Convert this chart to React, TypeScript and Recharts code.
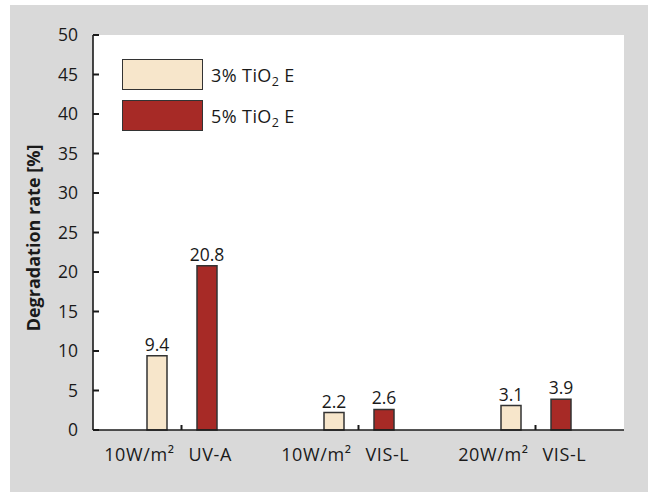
import { Bar, BarChart, CartesianGrid, LabelList, Legend, XAxis, YAxis } from 'recharts'

const intensities = ['10W/m²', '10W/m²', '20W/m²']
const lights = ['UV-A', 'VIS-L', 'VIS-L']
const seriesNames = ['3% TiO2 E', '5% TiO2 E']
const tio3 = [9.4, 2.2, 3.1]
const tio5 = [20.8, 2.6, 3.9]
const yTicks = [0, 5, 10, 15, 20, 25, 30, 35, 40, 45, 50]

const colors = ['#f7e6cb', '#a72a26']
const font = '"Open Sans", sans-serif'
const ink = '#1a1a1a'

const data = intensities.map((v, i) => ({
  name: `${v} ${lights[i]}`,
  s3: tio3[i],
  s5: tio5[i]
}))

function BottomTick({ x, y, index }: any) {
  return (
    <g>
      <line x1={x} x2={x} y1={y} y2={y - 5} stroke={ink} strokeWidth={2} />
      <text x={x - 7} y={y + 31} textAnchor="end" fontSize={18} fill={ink} fontFamily={font} letterSpacing={0.6}>
        {intensities[index]}
      </text>
      <text x={x + 7} y={y + 31} textAnchor="start" fontSize={18} fill={ink} fontFamily={font} letterSpacing={0.6}>
        {lights[index]}
      </text>
    </g>
  )
}

function TopTick({ x, y }: any) {
  return <line x1={x} x2={x} y1={y} y2={y + 6} stroke={ink} strokeWidth={2} />
}

function LeftTick({ x, y, payload }: any) {
  return (
    <g>
      <line x1={x} x2={x + 6} y1={y} y2={y} stroke={ink} strokeWidth={2} />
      <text x={x - 15} y={y + 6} textAnchor="end" fontSize={17.5} fill={ink} fontFamily={font}>
        {payload.value}
      </text>
    </g>
  )
}

function RightTick({ x, y }: any) {
  return <line x1={x - 6} x2={x} y1={y} y2={y} stroke={ink} strokeWidth={2} />
}

function YTitle() {
  return (
    <text
      x={23}
      y={233}
      transform="rotate(-90 23 233)"
      textAnchor="middle"
      dominantBaseline="central"
      fontSize={18}
      fontWeight={700}
      fill={ink}
      fontFamily={font}
    >
      Degradation rate [%]
    </text>
  )
}

function formula(name: string) {
  const [a, b] = name.split('TiO2')
  return (
    <>
      {a}TiO<sub style={{ fontSize: 12.5, verticalAlign: -4, lineHeight: 0 }}>2</sub>{b}
    </>
  )
}

function LegendBox({ payload }: any) {
  return (
    <div style={{ fontFamily: font }}>
      {(payload || []).map((entry: any, i: number) => (
        <div key={entry.value} style={{ display: 'flex', alignItems: 'center', marginBottom: i === 0 ? 10 : 0 }}>
          <div
            style={{
              width: 81,
              height: 31,
              boxSizing: 'border-box',
              background: entry.color,
              border: '1.5px solid #333'
            }}
          />
          <span style={{ marginLeft: 8, fontSize: 18, letterSpacing: 0.4, color: ink, lineHeight: '20px' }}>
            {formula(entry.value)}
          </span>
        </div>
      ))}
    </div>
  )
}

export default function App() {
  return (
    <div style={{ position: 'absolute', left: 0, top: 0, width: 648, height: 492, background: '#ffffff' }}>
      <div style={{ position: 'absolute', left: 10, top: 5, width: 638, height: 487, background: '#d9d9d9' }}>
        <BarChart
          width={638}
          height={487}
          data={data}
          margin={{ top: 30, right: 24, bottom: 22, left: 0 }}
          barGap={30}
          style={{ fontFamily: font }}
        >
          <CartesianGrid horizontal={false} vertical={false} fill="#ffffff" />
          <XAxis
            dataKey="name"
            height={40}
            interval={0}
            tickSize={0}
            tickMargin={0}
            tickLine={false}
            axisLine={{ stroke: ink, strokeWidth: 1.6 }}
            tick={<BottomTick />}
          />
          <XAxis
            xAxisId="top"
            orientation="top"
            dataKey="name"
            height={0}
            interval={0}
            tickSize={0}
            tickMargin={0}
            tickLine={false}
            axisLine={{ stroke: ink, strokeWidth: 1.6 }}
            tick={<TopTick />}
          />
          <YAxis
            width={83}
            domain={[0, 50]}
            ticks={yTicks}
            interval={0}
            tickSize={0}
            tickMargin={0}
            tickLine={false}
            axisLine={{ stroke: ink, strokeWidth: 1.6 }}
            tick={<LeftTick />}
            label={<YTitle />}
          />
          <YAxis
            yAxisId="right"
            orientation="right"
            width={0}
            domain={[0, 50]}
            ticks={yTicks}
            interval={0}
            tickSize={0}
            tickMargin={0}
            tickLine={false}
            axisLine={{ stroke: ink, strokeWidth: 1.6 }}
            tick={<RightTick />}
          />
          <Legend
            layout="horizontal"
            verticalAlign="middle"
            align="center"
            content={<LegendBox />}
            wrapperStyle={{ left: 112, top: 54, width: 'auto' }}
          />
          <Bar dataKey="s3" name={seriesNames[0]} fill={colors[0]} stroke="#333" strokeWidth={1.5} barSize={20} isAnimationActive={false}>
            <LabelList dataKey="s3" position="top" offset={5} fontSize={17.5} fill={ink} fontFamily={font} />
          </Bar>
          <Bar dataKey="s5" name={seriesNames[1]} fill={colors[1]} stroke="#333" strokeWidth={1.5} barSize={20} isAnimationActive={false}>
            <LabelList dataKey="s5" position="top" offset={5} fontSize={17.5} fill={ink} fontFamily={font} />
          </Bar>
        </BarChart>
      </div>
    </div>
  )
}
